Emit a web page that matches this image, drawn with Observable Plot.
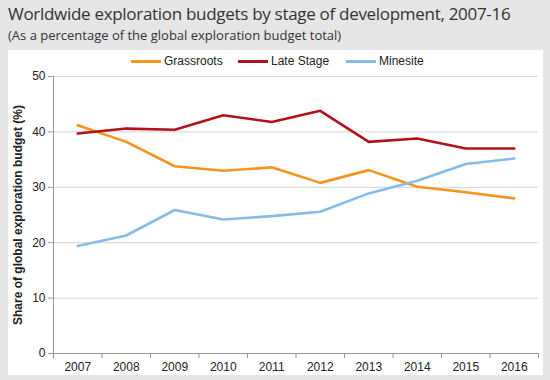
<!DOCTYPE html>
<html>
<head>
<meta charset="utf-8">
<script src="https://cdn.jsdelivr.net/npm/d3@7"></script>
<script src="https://cdn.jsdelivr.net/npm/@observablehq/plot@0.6"></script>
<style>
  html, body { margin: 0; padding: 0; }
  body { width: 550px; height: 380px; background: #e6e6e6; position: relative; overflow: hidden; }
  #title { position: absolute; left: 8px; top: 2px; font-family: "Open Sans", sans-serif; font-size: 17px; line-height: 24px; color: #333; white-space: nowrap; letter-spacing: -0.3px; }
  #subtitle { position: absolute; left: 8px; top: 26px; font-family: "Open Sans", sans-serif; font-size: 13px; line-height: 18px; color: #333; white-space: nowrap; }
  #panel { position: absolute; left: 8px; top: 50px; width: 535px; height: 325px; background: #fff; }
  #legend { position: absolute; left: 0; top: 3px; width: 535px; height: 16px; font-family: "Liberation Sans", Arial, sans-serif; font-size: 12px; color: #222; }
  .item { position: absolute; top: 0; display: flex; align-items: center; height: 16px; }
  .sw { width: 30px; height: 3px; margin-right: 3px; }
  #chart { position: absolute; left: 0; top: 18px; }
</style>
</head>
<body>
<div id="title">Worldwide exploration budgets by stage of development, 2007-16</div>
<div id="subtitle">(As a percentage of the global exploration budget total)</div>
<div id="panel">
  <div id="legend"></div>
  <div id="chart"></div>
</div>
<script>
const years = [2007, 2008, 2009, 2010, 2011, 2012, 2013, 2014, 2015, 2016];
const grassroots = [41.2, 38.2, 33.8, 33.0, 33.6, 30.8, 33.1, 30.1, 29.1, 28.0];
const lateStage  = [39.7, 40.6, 40.4, 43.0, 41.8, 43.8, 38.2, 38.8, 37.0, 37.0];
const minesite   = [19.4, 21.3, 25.9, 24.2, 24.8, 25.6, 28.9, 31.2, 34.2, 35.2];
const seriesNames = ["Grassroots", "Late Stage", "Minesite"];
const seriesColors = ["#f7941d", "#b2131b", "#85bce8"];
const yTicks = [0, 10, 20, 30, 40, 50];
const yLabel = "Share of global exploration budget (%)";

const seriesValues = [grassroots, lateStage, minesite];
const data = [];
seriesNames.forEach((name, i) => {
  years.forEach((yr, j) => data.push({series: name, year: yr, value: seriesValues[i][j]}));
});
const boundaries = d3.range(years.length + 1).map(i => years[0] - 0.5 + i);

// legend
const legendPos = [123, 230, 338];
const legend = document.getElementById("legend");
seriesNames.forEach((name, i) => {
  const it = document.createElement("div");
  it.className = "item";
  it.style.left = legendPos[i] + "px";
  it.innerHTML = `<span class="sw" style="background:${seriesColors[i]}"></span><span>${name}</span>`;
  legend.appendChild(it);
});

const chart = Plot.plot({
  width: 535,
  height: 307,
  marginTop: 8,
  marginBottom: 22,
  marginLeft: 45,
  marginRight: 5,
  style: {fontFamily: "'Liberation Sans', Arial, sans-serif", fontSize: "12px", color: "#222", background: "transparent"},
  x: {type: "linear", domain: [years[0] - 0.5, years[years.length - 1] + 0.5]},
  y: {domain: [0, 50]},
  color: {domain: seriesNames, range: seriesColors},
  marks: [
    Plot.ruleY(yTicks.filter(d => d > 0), {stroke: "#d4d4d4", strokeWidth: 1}),
    Plot.axisY({ticks: yTicks, tickSize: 5, tickPadding: 3, stroke: "#999", label: yLabel, labelArrow: "none", labelAnchor: "center", labelOffset: 40, fontSize: 12}),
    Plot.axisX({ticks: years, tickSize: 0, tickPadding: 9, tickFormat: d => String(d), label: null, fontSize: 12}),
    Plot.axisX({ticks: boundaries, tickSize: 5, tickFormat: () => "", stroke: "#999", label: null}),
    Plot.ruleY([0], {stroke: "#999"}),
    Plot.ruleX([boundaries[0]], {stroke: "#999"}),
    Plot.line(data, {x: "year", y: "value", z: "series", stroke: "series", strokeWidth: 2.6})
  ]
});
document.getElementById("chart").appendChild(chart);
// Bold y-axis title, no arrow
chart.querySelectorAll("text").forEach(t => {
  if (t.textContent.includes("Share of global")) {
    t.textContent = yLabel;
    t.style.fontWeight = "bold";
  }
});
</script>
</body>
</html>
